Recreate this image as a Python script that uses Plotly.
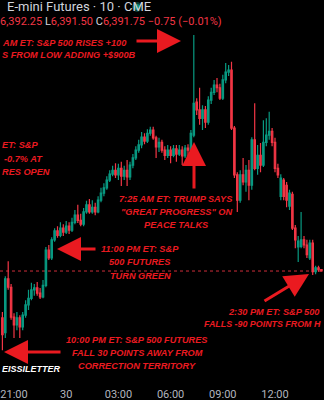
import pandas as pd
import plotly.graph_objects as go

# ---- data (10-minute ES candles) ----
start_time = "2025-03-29 20:20"
opens = [6373.75, 6368.0, 6388.75, 6385.5, 6374.0, 6371.0, 6373.75, 6370.25, 6374.75, 6378.75,
         6381.25, 6384.5, 6385.25, 6383.25, 6381.75, 6386.25, 6399.75, 6396.75, 6403.75, 6407.25,
         6405.5, 6408.25, 6406.75, 6409.0, 6407.5, 6410.5, 6413.25, 6411.25, 6409.75, 6414.5,
         6417.25, 6414.5, 6416.25, 6414.5, 6419.0, 6421.75, 6423.75, 6426.75, 6429.0, 6430.5,
         6428.75, 6431.25, 6428.25, 6430.5, 6428.0, 6432.5, 6435.25, 6438.25, 6440.25, 6443.25,
         6441.75, 6444.75, 6446.0, 6443.0, 6439.5, 6441.25, 6438.25, 6436.25, 6438.25, 6436.25,
         6438.75, 6436.75, 6438.25, 6436.0, 6439.0, 6438.25, 6444.0, 6456.75, 6453.75, 6450.5,
         6453.75, 6449.0, 6457.5, 6460.5, 6463.25, 6462.25, 6458.25, 6465.25, 6468.25, 6469.0,
         6446.75, 6428.75, 6419.0, 6428.75, 6426.0, 6430.5, 6424.75, 6442.25, 6431.25, 6436.25,
         6432.5, 6441.25, 6444.0, 6445.5, 6441.25, 6431.25, 6420.5, 6426.75, 6424.75, 6416.75,
         6421.25, 6408.25, 6401.0, 6401.25, 6403.75, 6401.75, 6396.75, 6402.5, 6391.5, 6393.0,
         6392.25]
highs = [6376.0, 6389.75, 6395.5, 6386.75, 6375.5, 6376.0, 6374.75, 6376.0, 6380.5, 6384.5,
         6387.25, 6386.75, 6387.5, 6385.25, 6388.25, 6401.0, 6401.75, 6404.75, 6408.25, 6409.0,
         6410.5, 6409.75, 6411.0, 6410.5, 6412.25, 6415.25, 6417.25, 6413.75, 6416.0, 6418.75,
         6419.5, 6419.0, 6418.0, 6420.5, 6423.75, 6425.5, 6428.25, 6430.5, 6432.25, 6433.25,
         6433.0, 6433.75, 6432.25, 6434.5, 6433.75, 6436.75, 6439.75, 6442.25, 6445.25, 6444.75,
         6446.25, 6447.25, 6447.25, 6443.75, 6443.0, 6442.25, 6439.75, 6440.25, 6439.75, 6440.25,
         6440.25, 6440.25, 6439.75, 6440.25, 6440.5, 6446.0, 6482.5, 6458.25, 6462.25, 6455.5,
         6455.25, 6459.0, 6462.25, 6465.25, 6466.0, 6463.75, 6467.25, 6471.75, 6471.0, 6472.25,
         6447.5, 6429.75, 6430.5, 6435.25, 6432.5, 6434.5, 6443.25, 6456.25, 6440.25, 6441.0,
         6449.75, 6450.5, 6453.0, 6446.75, 6443.0, 6433.0, 6429.0, 6427.5, 6426.0, 6423.0,
         6422.25, 6409.5, 6405.25, 6414.5, 6405.25, 6403.75, 6403.75, 6403.75, 6393.75, 6393.75,
         6392.25]
lows = [6361.25, 6366.0, 6384.5, 6373.0, 6366.0, 6369.0, 6366.0, 6369.0, 6373.75, 6376.75,
        6380.5, 6382.25, 6382.25, 6381.0, 6381.25, 6385.5, 6396.0, 6396.0, 6403.0, 6404.5,
        6404.75, 6405.25, 6406.0, 6406.0, 6406.75, 6409.75, 6410.25, 6409.0, 6409.0, 6413.75,
        6413.75, 6413.75, 6413.25, 6414.0, 6418.25, 6420.5, 6423.0, 6426.0, 6428.25, 6427.5,
        6426.75, 6424.5, 6426.75, 6424.5, 6426.75, 6431.25, 6434.5, 6437.25, 6439.0, 6440.5,
        6441.0, 6443.75, 6442.25, 6435.25, 6437.5, 6437.25, 6434.5, 6435.25, 6433.25, 6435.5,
        6433.75, 6436.0, 6432.5, 6435.25, 6436.0, 6437.5, 6443.25, 6451.75, 6448.0, 6446.0,
        6446.75, 6448.0, 6456.0, 6459.5, 6460.5, 6457.5, 6457.5, 6464.0, 6466.75, 6446.0,
        6427.5, 6414.5, 6418.0, 6424.75, 6422.25, 6419.0, 6423.0, 6430.5, 6428.75, 6429.75,
        6431.75, 6439.75, 6442.25, 6439.75, 6429.75, 6427.5, 6419.0, 6419.0, 6416.25, 6415.25,
        6407.5, 6400.5, 6395.25, 6400.5, 6400.5, 6396.75, 6396.0, 6390.25, 6390.5, 6391.5,
        6391.5]
closes = [6367.25, 6388.75, 6385.5, 6374.0, 6371.0, 6373.75, 6370.25, 6374.75, 6378.75, 6381.25,
          6384.5, 6385.25, 6383.25, 6381.75, 6386.25, 6399.75, 6396.75, 6403.75, 6407.25, 6405.5,
          6408.25, 6406.75, 6409.0, 6407.5, 6410.5, 6413.25, 6411.25, 6409.75, 6414.5, 6417.25,
          6414.5, 6416.25, 6414.5, 6419.0, 6421.75, 6423.75, 6426.75, 6429.0, 6430.5, 6428.75,
          6431.25, 6428.25, 6430.5, 6428.0, 6432.5, 6435.25, 6438.25, 6440.25, 6443.25, 6441.75,
          6444.75, 6446.0, 6443.0, 6439.5, 6441.25, 6438.25, 6436.25, 6438.25, 6436.25, 6438.75,
          6436.75, 6438.25, 6436.0, 6439.0, 6438.25, 6444.75, 6456.25, 6453.75, 6450.5, 6453.75,
          6449.0, 6457.5, 6460.5, 6463.25, 6462.25, 6458.25, 6465.25, 6468.25, 6469.0, 6446.75,
          6428.75, 6419.0, 6428.75, 6426.0, 6430.5, 6424.75, 6442.25, 6431.25, 6436.25, 6432.5,
          6441.25, 6444.0, 6445.5, 6441.25, 6431.25, 6428.75, 6427.5, 6420.5, 6419.0, 6421.75,
          6408.25, 6403.75, 6403.25, 6403.75, 6401.75, 6398.0, 6402.5, 6391.5, 6393.0, 6392.25,
          6391.75]

tick_times = ["2025-03-29 21:00", "2025-03-30 00:00", "2025-03-30 03:00", "2025-03-30 06:00",
              "2025-03-30 09:00", "2025-03-30 12:00", "2025-03-30 14:30"]
tick_labels = ["21:00", "30", "03:00", "06:00", "09:00", "12:00", "14:30"]

header_title = "E-mini Futures · 10 · CME"
header_high = "6,392.25"
header_low = "6,391.50"
header_close = "6,391.75"
header_change = "−0.75 (−0.01%)"

times = pd.date_range(start_time, periods=len(closes), freq="10min")

# ---- figure ----
W, H_ = 324, 400
PLOT_H = 378
GREEN = "#089981"
RED = "#F23645"
ANN_RED = "#ea1a20"
ANN_FONT = "Liberation Sans"

fig = go.Figure(go.Candlestick(
    x=times, open=opens, high=highs, low=lows, close=closes,
    increasing=dict(line=dict(color=GREEN, width=1.2), fillcolor=GREEN),
    decreasing=dict(line=dict(color=RED, width=1.2), fillcolor=RED),
    whiskerwidth=0, hoverinfo="skip",
))

def px(x):
    return x / W

def py(y):
    return 1 - y / PLOT_H

annotations = []

def label(text, x, y, anchor="center", color=ANN_RED, size=9.2):
    annotations.append(dict(
        text=text, x=px(x), y=py(y), xref="paper", yref="paper",
        xanchor=anchor, yanchor="middle", showarrow=False,
        font=dict(family=ANN_FONT, size=size, color=color, weight="bold", style="italic"),
    ))

def arrow(tip, tail):
    annotations.append(dict(
        text="", x=px(tip[0]), y=py(tip[1]), xref="paper", yref="paper",
        ax=tail[0] - tip[0], ay=tail[1] - tip[1], axref="pixel", ayref="pixel",
        showarrow=True, arrowhead=2, arrowsize=1.6, arrowwidth=3, arrowcolor=ANN_RED,
    ))

# header
annotations.append(dict(
    text=header_title, x=px(5), y=py(7), xref="paper", yref="paper",
    xanchor="left", yanchor="middle", showarrow=False,
    font=dict(family="Roboto", size=13, color="#d1d4dc"),
))
annotations.append(dict(
    text=(f'<span style="color:{RED}">{header_high}</span> L<span style="color:{RED}">{header_low}</span>'
          f' C<span style="color:{RED}">{header_close}</span> <span style="color:{RED}">{header_change}</span>'),
    x=px(-2), y=py(22), xref="paper", yref="paper",
    xanchor="left", yanchor="middle", showarrow=False,
    font=dict(family="Roboto", size=11, color="#d1d4dc"),
))

# annotation texts
label("AM ET: S&P 500 RISES +100", 0, 43, "left")
label("S FROM LOW ADDING +$900B", 0, 55, "left")
arrow((181, 41), (135, 41))

label("ET: S&P", 0, 145, "left")
label("-0.7% AT", 2, 159, "left")
label("RES OPEN", 0, 172, "left")

label("7:25 AM ET: TRUMP SAYS", 176, 199)
label("\"GREAT PROGRESS\" ON", 177, 212)
label("PEACE TALKS", 176, 225)
arrow((194, 142), (194, 190))

label("11:00 PM ET: S&P", 140, 249)
label("500 FUTURES", 140, 262)
label("TURN GREEN", 140, 276)
arrow((57, 249), (97, 249))

label("10:00 PM ET: S&P 500 FUTURES", 137, 340)
label("FALL 30 POINTS AWAY FROM", 137, 353)
label("CORRECTION TERRITORY", 137, 366)
arrow((4, 352), (62, 352))

label("2:30 PM ET: S&P 500", 226, 312, "left")
label("FALLS -90 POINTS FROM H", 323, 324, "right", size=8.9)
arrow((309, 274), (263, 302))

label("EISSILETTER", 0, 369, "left", color="#ffffff", size=9.0)

fig.update_layout(
    width=W, height=H_,
    margin=dict(l=0, r=0, t=0, b=H_ - PLOT_H),
    paper_bgcolor="#000000", plot_bgcolor="#000000",
    showlegend=False,
    annotations=annotations,
    shapes=[
        dict(type="line", xref="paper", x0=0, x1=1, yref="y", y0=closes[-1], y1=closes[-1],
             line=dict(color="rgba(242,54,69,0.85)", width=1, dash="dot"), layer="below"),
        dict(type="circle", xref="paper", yref="paper",
             x0=px(133), x1=px(141), y0=py(11), y1=py(3),
             fillcolor="#0f8f76", line=dict(color="#0a3d35", width=2)),
    ],
    xaxis=dict(
        type="date", rangeslider=dict(visible=False),
        range=["2025-03-29 20:11:43", "2025-03-30 14:48:58"],
        tickvals=tick_times, ticktext=tick_labels,
        showgrid=False, zeroline=False, showline=False,
        ticks="outside", ticklen=6, tickcolor="rgba(0,0,0,0)",
        tickfont=dict(family="Roboto", size=11, color="#b2b5be"),
    ),
    yaxis=dict(visible=False, range=[6350.6, 6496.0], showgrid=False, zeroline=False),
)

fig.write_html("out.html")
